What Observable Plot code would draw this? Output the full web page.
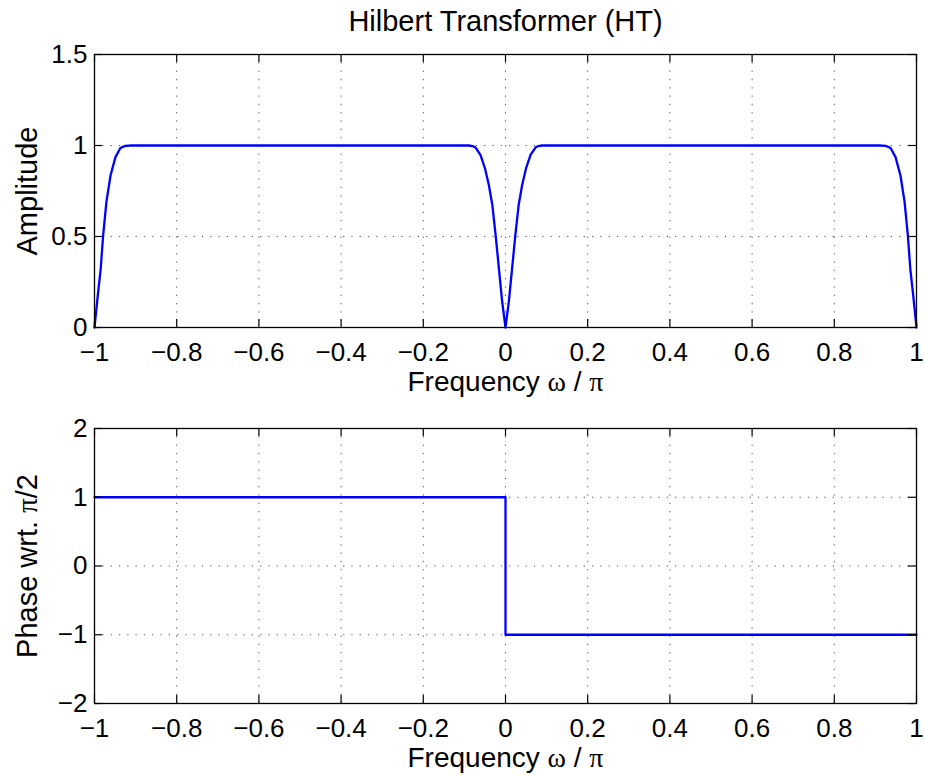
<!DOCTYPE html>
<html>
<head>
<meta charset="utf-8">
<script src="https://cdn.jsdelivr.net/npm/d3@7"></script>
<script src="https://cdn.jsdelivr.net/npm/@observablehq/plot@0.6"></script>
<style>
  html, body { margin: 0; padding: 0; background: white; }
  #chart svg { display: block; }
</style>
</head>
<body>
<div id="chart"></div>
<script>
// ---- Data ----
const ampFreq = [
  -1, -0.992, -0.985, -0.979, -0.971, -0.961, -0.949, -0.937, -0.925, -0.91,
  -0.7, -0.5, -0.3, -0.1,
  -0.089, -0.08, -0.073, -0.061, -0.05, -0.0405, -0.032, -0.024, -0.016, -0.008, 0,
  0.008, 0.016, 0.024, 0.032, 0.0405, 0.05, 0.061, 0.073, 0.08, 0.089,
  0.1, 0.3, 0.5, 0.7,
  0.91, 0.925, 0.937, 0.949, 0.961, 0.971, 0.979, 0.985, 0.992, 1
];
const ampValue = [
  0, 0.176, 0.32, 0.505, 0.69, 0.835, 0.936, 0.986, 0.998, 1.0,
  1.0, 1.0, 1.0, 1.0,
  1.0, 0.997, 0.989, 0.949, 0.875, 0.783, 0.673, 0.507, 0.324, 0.14, 0,
  0.14, 0.324, 0.507, 0.673, 0.783, 0.875, 0.949, 0.989, 0.997, 1.0,
  1.0, 1.0, 1.0, 1.0,
  1.0, 0.998, 0.986, 0.936, 0.835, 0.69, 0.505, 0.32, 0.176, 0
];
const phaseFreq = [-1, 0, 0, 1];
const phaseValue = [1, 1, -1, -1];

const xTicks = [-1, -0.8, -0.6, -0.4, -0.2, 0, 0.2, 0.4, 0.6, 0.8, 1];
const xTickLabels = ["\u22121", "\u22120.8", "\u22120.6", "\u22120.4", "\u22120.2", "0", "0.2", "0.4", "0.6", "0.8", "1"];
const ampTicks = [0, 0.5, 1, 1.5];
const ampTickLabels = ["0", "0.5", "1", "1.5"];
const phaseTicks = [-2, -1, 0, 1, 2];
const phaseTickLabels = ["\u22122", "\u22121", "0", "1", "2"];

const titleText = "Hilbert Transformer (HT)";
const xLabel = "Frequency \u03c9 / \u03c0";
const ampLabel = "Amplitude";
const phaseLabel = "Phase wrt. \u03c0/2";

// ---- Build tables ----
const ampData = ampFreq.map((f, i) => ({f, a: ampValue[i]}));
const phaseData = phaseFreq.map((f, i) => ({f, p: phaseValue[i]}));

const W = 925, ML = 94, MR = 9;
const FW = W - ML - MR;
const TICK = 8;
const FS_TICK = 26, FS_LABEL = 28, FS_YLABEL = 29, FS_TITLE = 29;
const font = "'Liberation Sans', Arial, Helvetica, sans-serif";

function fmt(ticks, labels) {
  return d => { const i = ticks.indexOf(d); return i >= 0 ? labels[i] : ""; };
}

function panel({height, marginTop, marginBottom, yDomain, yTicks, yLabels, data, yKey, ylabel, title}) {
  const FH = height - marginTop - marginBottom;
  const inner = (arr, dom) => arr.filter(v => v !== dom[0] && v !== dom[1]);
  const marks = [
    Plot.gridX(inner(xTicks, [-1, 1]), {stroke: "#000", strokeOpacity: 0.65, strokeDasharray: "1.3,7", strokeWidth: 1}),
    Plot.gridY(inner(yTicks, yDomain), {stroke: "#000", strokeOpacity: 0.65, strokeDasharray: "1.3,7", strokeWidth: 1}),
    Plot.line(data, {x: "f", y: yKey, stroke: "#0000ff", strokeWidth: 2.3, curve: "linear"}),
    Plot.frame({stroke: "#000", strokeWidth: 1.3}),
    // inward ticks (MATLAB style box)
    Plot.tickX(xTicks, {x: d => d, insetTop: FH - TICK, stroke: "#000", strokeWidth: 1.2}),
    Plot.tickX(xTicks, {x: d => d, insetBottom: FH - TICK, stroke: "#000", strokeWidth: 1.2}),
    Plot.tickY(yTicks, {y: d => d, insetRight: FW - TICK, stroke: "#000", strokeWidth: 1.2}),
    Plot.tickY(yTicks, {y: d => d, insetLeft: FW - TICK, stroke: "#000", strokeWidth: 1.2}),
    Plot.axisX(xTicks, {anchor: "bottom", tickSize: 0, tickPadding: 15, tickFormat: fmt(xTicks, xTickLabels), label: null, fontSize: FS_TICK}),
    Plot.axisY(yTicks, {anchor: "left", tickSize: 0, tickPadding: 7, tickFormat: fmt(yTicks, yLabels), label: null, fontSize: FS_TICK}),
    Plot.text([xLabel], {frameAnchor: "bottom", dy: 63, lineAnchor: "bottom", textAnchor: "middle", fontSize: FS_LABEL, fill: "#000", className: "greek"}),
    Plot.text([ylabel], {frameAnchor: "left", dx: -67, rotate: -90, textAnchor: "middle", lineAnchor: "middle", fontSize: FS_YLABEL, fill: "#000", className: "greek"})
  ];
  if (title) {
    marks.push(Plot.text([title], {frameAnchor: "top", dy: -24, lineAnchor: "bottom", textAnchor: "middle", fontSize: FS_TITLE, fill: "#000"}));
  }
  return Plot.plot({
    width: W, height,
    marginTop, marginBottom, marginLeft: ML, marginRight: MR,
    style: {fontFamily: font, fontSize: FS_TICK + "px", color: "#000", background: "white", overflow: "visible"},
    x: {domain: [-1, 1]},
    y: {domain: yDomain},
    marks
  });
}

const topPanel = panel({height: 400, marginTop: 54, marginBottom: 73, yDomain: [0, 1.5], yTicks: ampTicks, yLabels: ampTickLabels, data: ampData, yKey: "a", ylabel: ampLabel, title: titleText});
const bottomPanel = panel({height: 376, marginTop: 28, marginBottom: 73, yDomain: [-2, 2], yTicks: phaseTicks, yLabels: phaseTickLabels, data: phaseData, yKey: "p", ylabel: phaseLabel});

const chart = document.getElementById("chart");
chart.appendChild(topPanel);
chart.appendChild(bottomPanel);

// render the Greek letters in a serif face, as in the reference
chart.querySelectorAll("g.greek text").forEach(t => {
  const s = t.textContent;
  if (!/[\u03c0\u03c9]/.test(s)) return;
  while (t.firstChild) t.removeChild(t.firstChild);
  for (const part of s.split(/([\u03c0\u03c9])/)) {
    if (!part) continue;
    const ts = document.createElementNS("http://www.w3.org/2000/svg", "tspan");
    ts.textContent = part;
    if (/[\u03c0\u03c9]/.test(part)) ts.setAttribute("font-family", "'Liberation Serif', 'DejaVu Serif', serif");
    t.appendChild(ts);
  }
});
</script>
</body>
</html>
